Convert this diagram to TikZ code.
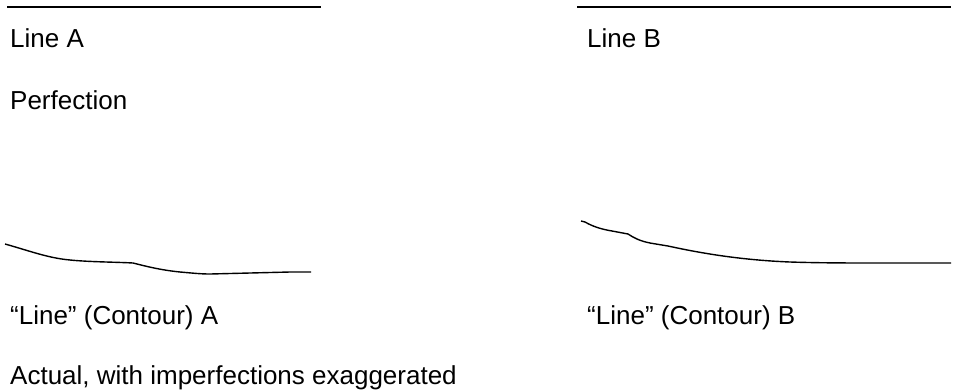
\documentclass[tikz,border=0pt]{standalone}
\usepackage{fontspec}
\setmainfont{Liberation Sans}
\begin{document}
\begin{tikzpicture}[x=1pt,y=-1pt,
  lbl/.style={anchor=base west,inner sep=0pt,font=\fontsize{26}{30}\selectfont},
  rule/.style={line width=1.6pt},
  contour/.style={line width=1.4pt,line join=round}]
\useasboundingbox (0,0) rectangle (958,389);
% top straight lines
\coordinate (a1) at (7,7);
\coordinate (a2) at (321,7);
\coordinate (b1) at (577,7);
\coordinate (b2) at (951,7);
\draw[rule] (a1) -- (a2);
\draw[rule] (b1) -- (b2);
% labels
\node[lbl] (la) at (10,47) {Line A};
\node[lbl] (lb) at (587,47) {Line B};
\node[lbl] (pf) at (10,109) {Perfection};
\node[lbl] (ca) at (10,324) {“Line” (Contour) A};
\node[lbl] (cb) at (587,324) {“Line” (Contour) B};
\node[lbl] (ac) at (10,384) {Actual, with imperfections exaggerated};
% contour A
\draw[contour] (5,244) .. controls (30,251) and (48,258) .. (70,260)
  .. controls (90,262) and (115,262) .. (133,263)
  .. controls (145,266) and (160,270) .. (180,272)
  .. controls (192,273) and (200,274) .. (210,274)
  -- (250,273) -- (290,272) -- (311,272);
% contour B
\draw[contour] (581,221) -- (585,222) .. controls (592,226) and (600,229) .. (612,231)
  -- (628,234) .. controls (634,238) and (640,241) .. (650,243)
  -- (668,246) .. controls (700,253) and (740,260) .. (790,262)
  .. controls (820,263) and (850,263) .. (880,263) -- (951,263);
\end{tikzpicture}
\end{document}
